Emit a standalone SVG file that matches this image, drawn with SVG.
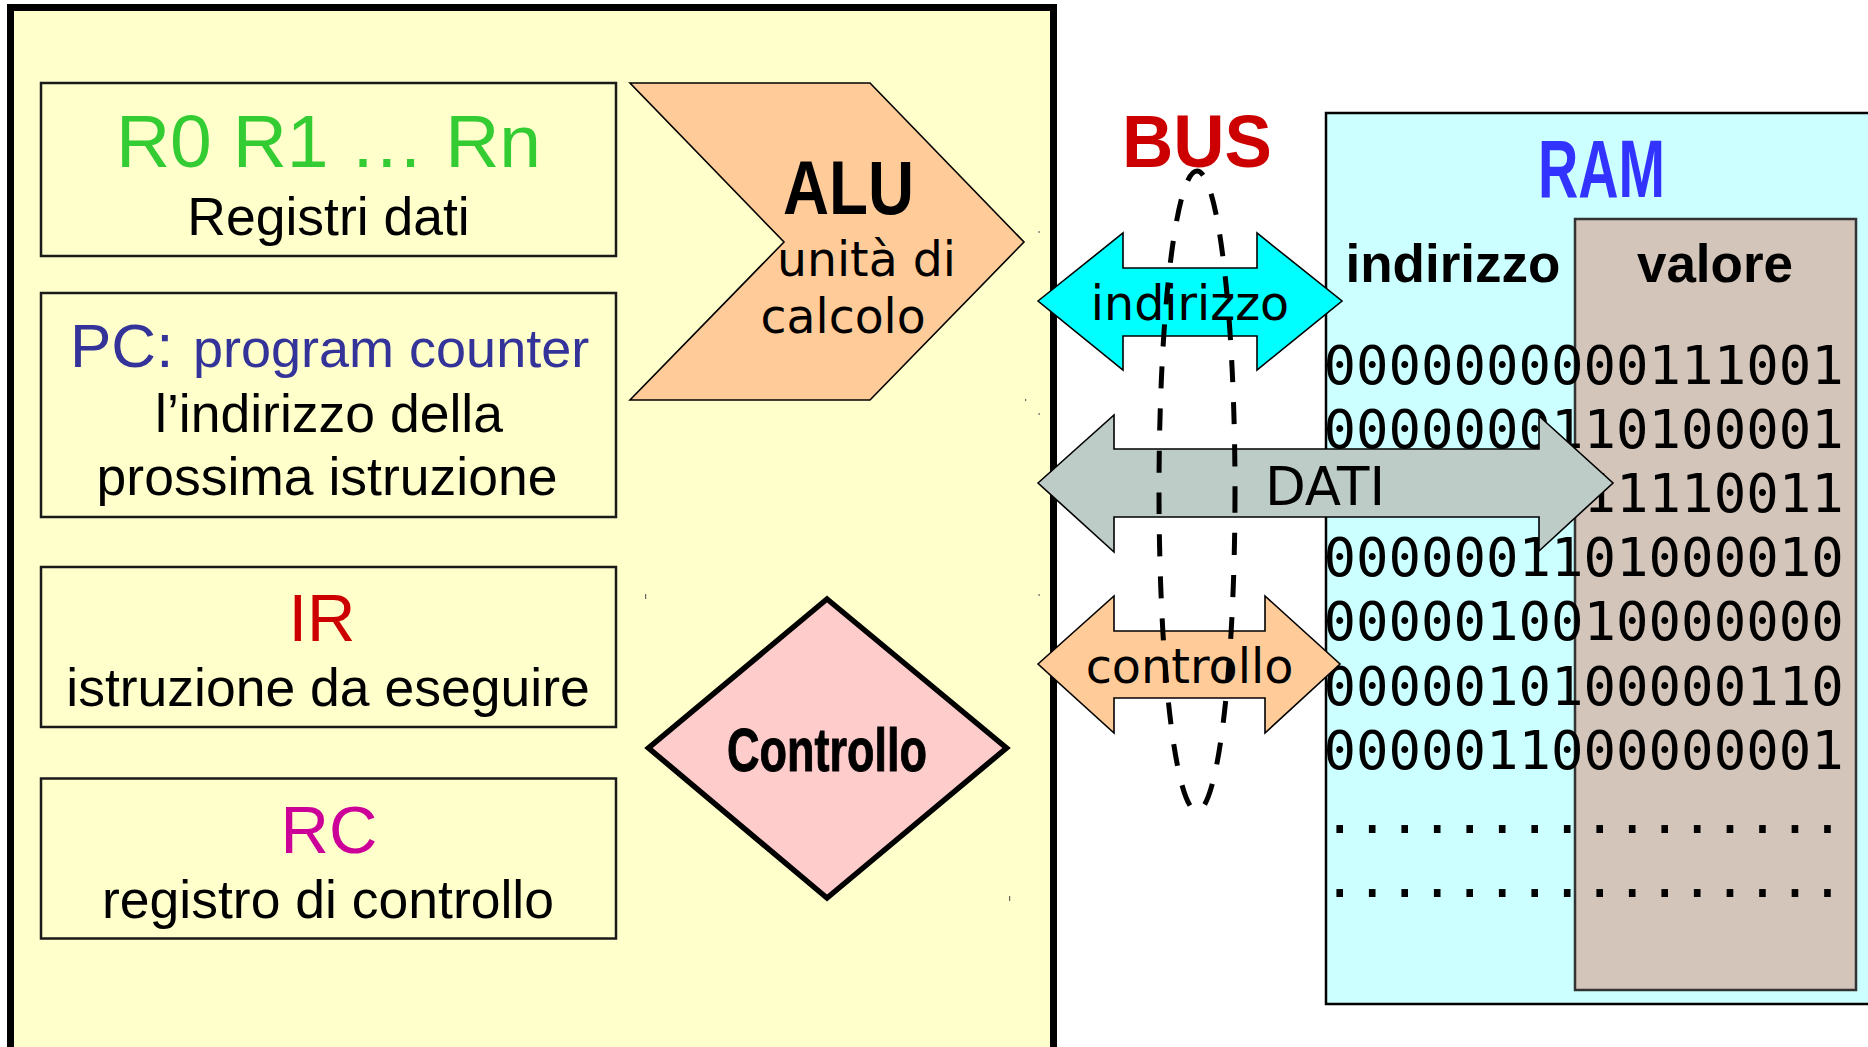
<svg xmlns="http://www.w3.org/2000/svg" width="1868" height="1047" viewBox="0 0 1868 1047">
<style>
.reg{fill:none;stroke:#1a1a1a;stroke-width:2.5}
.sans{font-family:"Liberation Sans",Arial,sans-serif}
.bold{font-family:"Liberation Sans",Arial,sans-serif;font-weight:bold}
.dv{font-family:"DejaVu Sans",sans-serif}
.mono{font-family:"DejaVu Sans Mono",monospace;font-size:54px;fill:#000}
.arrow{stroke:#000;stroke-width:1.6;stroke-linejoin:miter}
.mid{text-anchor:middle}
.tick{fill:#666}
</style>
<rect width="1868" height="1047" fill="#ffffff"/>
<g id="cpu">
<rect x="10.5" y="7.5" width="1043" height="1050" fill="#FFFFCC" stroke="#000" stroke-width="7"/>
</g>
<g id="registri-dati">
<rect class="reg" x="41" y="83" width="575" height="173"/>
<text class="sans mid" x="328.5" y="167" font-size="75" fill="#33CC33">R0 R1 … Rn</text>
<text class="sans mid" x="328.5" y="235" font-size="53.5" fill="#000">Registri dati</text>
</g>
<g id="pc">
<rect class="reg" x="41" y="293" width="575" height="224"/>
<text class="sans" y="367" fill="#333399"><tspan x="70" font-size="62">PC:</tspan><tspan x="193" font-size="54">program counter</tspan></text>
<text class="sans mid" x="329" y="431.5" font-size="53.5" fill="#000">l’indirizzo della</text>
<text class="sans mid" x="327" y="495" font-size="53.5" fill="#000">prossima istruzione</text>
</g>
<g id="ir">
<rect class="reg" x="41" y="567" width="575" height="160"/>
<text class="sans mid" x="322" y="641" font-size="67" fill="#CC0000">IR</text>
<text class="sans mid" x="328" y="705.5" font-size="53.5" fill="#000">istruzione da eseguire</text>
</g>
<g id="rc">
<rect class="reg" x="41" y="778.5" width="575" height="160"/>
<text class="sans mid" x="329" y="853" font-size="67" fill="#CC0099">RC</text>
<text class="sans mid" x="328" y="918" font-size="53.5" fill="#000">registro di controllo</text>
</g>
<g id="alu">
<polygon points="630,83 870,83 1024,242 870,400 630,400 784,242" fill="#FFCC99" stroke="#000" stroke-width="1.6"/>
<text class="bold" x="783" y="214" font-size="76" textLength="131" lengthAdjust="spacingAndGlyphs" fill="#000">ALU</text>
<text class="dv" x="777" y="276" font-size="47.3" fill="#000">unità di</text>
<text class="dv" x="760.5" y="333" font-size="47.3" fill="#000">calcolo</text>
</g>
<g id="controllo">
<polygon points="827,599 1006.5,748 827,898 648.5,748" fill="#FFCCCC" stroke="#000" stroke-width="5.5"/>
<text class="bold" x="727" y="771" font-size="62" textLength="200" lengthAdjust="spacingAndGlyphs" fill="#000" stroke="#000" stroke-width="1">Controllo</text>
</g>
<g id="ram">
<rect x="1326" y="113" width="600" height="891" fill="#CCFFFF" stroke="#000" stroke-width="2.5"/>
<rect x="1575" y="219" width="281" height="771" fill="#D3C5B9" stroke="#333" stroke-width="2.5"/>
<text class="bold" x="1538" y="197" font-size="81" textLength="127" lengthAdjust="spacingAndGlyphs" fill="#3333FF">RAM</text>
<text class="bold" x="1345.5" y="282" font-size="53" fill="#000">indirizzo</text>
<text class="bold mid" x="1715" y="282" font-size="53" fill="#000">valore</text>
<text class="mono" x="1323.5" y="383.5">0000000000111001</text>
<text class="mono" x="1323.5" y="447.7">0000000110100001</text>
<text class="mono" x="1323.5" y="511.9">0000001011110011</text>
<text class="mono" x="1323.5" y="576.1">0000001101000010</text>
<text class="mono" x="1323.5" y="640.3">0000010010000000</text>
<text class="mono" x="1323.5" y="704.5">0000010100000110</text>
<text class="mono" x="1323.5" y="768.7">0000011000000001</text>
<text class="mono" x="1323.5" y="832.9">................</text>
<text class="mono" x="1323.5" y="897.1">................</text>
</g>
<g id="connectors">
<polygon class="arrow" points="1038,301 1123,233 1123,268 1257,268 1257,233 1342,301 1257,370 1257,336 1123,336 1123,370" fill="#00FFFF"/>
<text class="dv mid" x="1190" y="320" font-size="47.5" fill="#000">indirizzo</text>
<polygon class="arrow" points="1038,483 1114,415 1114,449 1539,449 1539,416 1613,483 1539,551 1539,517 1114,517 1114,552" fill="#BDCCC6"/>
<text class="dv mid" x="1325" y="505" font-size="53" fill="#000">DATI</text>
<polygon class="arrow" points="1038,664 1114,596 1114,631 1265,631 1265,596 1340,664 1265,733 1265,698 1114,698 1114,733" fill="#FFCC99"/>
<text class="dv mid" x="1189.5" y="683" font-size="47.7" fill="#000">controllo</text>
</g>
<g id="bus">
<ellipse cx="1197" cy="491" rx="38" ry="320" fill="none" stroke="#000" stroke-width="5" stroke-dasharray="22 20"/>
<text class="bold" x="1122" y="167" font-size="75" textLength="150" lengthAdjust="spacingAndGlyphs" fill="#CC0000">BUS</text>
</g>
<g id="marks">
<rect class="tick" x="645" y="594" width="1.2" height="5"/>
<rect class="tick" x="1009" y="896" width="1.2" height="5"/>
<rect class="tick" x="1025" y="399" width="1.2" height="2"/>
<rect class="tick" x="1038.5" y="231" width="1.2" height="2"/>
<rect class="tick" x="1038.5" y="413" width="1.2" height="2"/>
<rect class="tick" x="1038.5" y="594" width="1.2" height="2"/>
</g>
</svg>
